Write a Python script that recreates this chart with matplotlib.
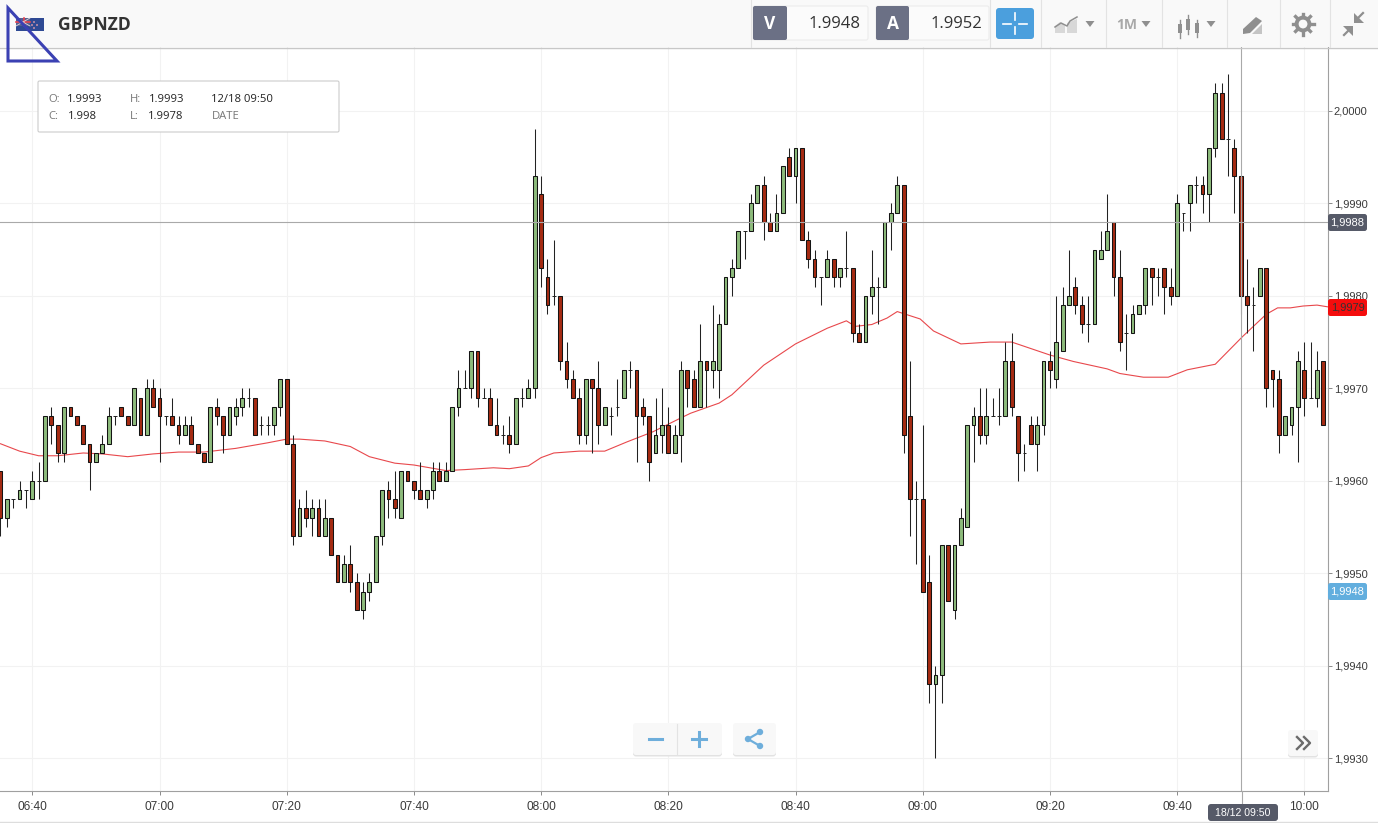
import numpy as np
import matplotlib
matplotlib.use("Agg")
import matplotlib.pyplot as plt
from matplotlib.patches import Rectangle, FancyBboxPatch, Polygon, Circle
from matplotlib.ticker import FixedLocator, FixedFormatter

# ---------- data: one candle per minute; price = (BASE + value) * 0.0001 ----------
BASE = 19900
first_minute = -5   # minutes relative to 06:40
opens = [61,56,58,58,59,58,60,60,67,66,
         63,68,67,66,64,62,63,64,67,68,
         67,66,69,65,70,69,67,67,66,65,
         66,64,63,62,68,67,65,67,68,69,
         69,66,66,66,68,71,64,54,57,56,
         57,54,56,52,49,51,49,46,48,49,
         54,59,58,56,61,60,59,58,59,61,
         60,61,68,70,70,74,69,69,66,65,
         65,64,69,69,70,91,82,80,80,73,
         71,69,65,71,70,66,67,68,69,72,
         72,68,67,63,65,66,63,65,72,71,
         68,73,72,72,77,82,83,87,87,90,
         92,88,87,89,95,93,96,86,84,82,
         82,84,82,83,83,76,75,80,81,81,
         88,89,92,67,58,58,49,38,39,53,
         46,53,55,66,67,65,67,67,67,73,
         67,63,66,64,66,73,71,74,79,81,
         79,77,77,84,85,88,82,76,76,78,
         79,83,82,83,81,80,89,90,92,92,
         91,96,102,97,96,93,80,79,80,83,
         72,71,65,66,68,72,69,69,73]
highs = [61,58,58,60,59,61,62,67,68,66,
         68,68,67,66,64,63,65,68,67,68,
         67,70,69,71,71,70,67,69,67,67,
         67,64,63,68,69,67,68,69,70,70,
         69,67,67,68,71,71,65,58,59,58,
         58,58,56,52,52,53,50,49,50,54,
         59,60,61,61,61,60,62,59,62,62,
         62,68,72,72,74,74,70,70,69,66,
         67,69,70,71,98,93,84,86,80,75,
         72,70,71,71,73,68,68,71,72,73,
         72,69,67,69,70,68,66,73,72,72,
         77,73,79,78,82,84,87,87,91,92,
         93,89,91,94,96,96,96,87,85,82,
         85,84,83,87,83,77,80,85,82,88,
         90,93,92,73,60,66,52,40,53,53,
         53,57,66,68,70,70,69,70,75,76,
         67,64,67,67,73,74,80,81,85,82,
         80,80,85,87,91,88,85,78,79,79,
         83,83,83,83,83,91,89,92,93,93,
         96,103,103,104,97,93,84,81,83,83,
         72,72,67,68,74,75,75,74,73]
lows = [54,55,57,58,57,58,58,60,64,62,
        62,67,66,64,59,62,63,64,66,67,
        66,66,65,65,68,62,66,66,64,65,
        64,63,62,62,66,63,65,66,67,68,
        65,65,65,65,67,64,53,54,55,54,
        54,54,52,49,49,48,46,45,47,49,
        53,56,56,56,60,58,58,57,58,60,
        60,61,67,70,69,68,69,66,65,64,
        63,64,68,69,69,81,78,79,72,70,
        69,64,64,63,64,66,65,67,69,70,
        62,66,60,63,63,63,63,62,68,68,
        68,68,70,69,77,80,83,84,87,90,
        86,87,87,89,93,90,86,83,81,79,
        82,81,81,82,75,75,75,78,77,81,
        85,89,63,54,51,48,36,30,36,47,
        45,53,55,62,64,64,67,66,67,67,
        60,61,64,61,65,70,70,74,79,78,
        76,75,77,84,85,80,74,72,76,78,
        78,79,80,78,79,80,87,87,90,89,
        88,95,97,93,89,78,76,74,80,68,
        68,63,65,65,62,67,69,68,66]
closes = [56,58,58,59,59,60,60,67,66,63,
          68,67,66,64,62,63,64,67,67,67,
          66,70,65,70,68,67,67,66,65,66,
          64,63,62,68,67,65,68,68,69,69,
          65,66,66,68,71,64,54,57,56,57,
          54,56,52,49,51,49,46,48,49,54,
          59,58,57,61,60,59,58,59,61,60,
          61,68,70,70,74,69,69,66,65,65,
          64,69,69,70,93,83,79,80,73,71,
          69,65,71,70,66,68,67,68,72,72,
          67,67,62,65,66,63,65,72,70,68,
          73,72,73,77,82,83,87,87,90,92,
          88,87,89,94,93,96,86,84,82,82,
          84,82,83,83,76,75,80,81,81,88,
          89,92,65,58,58,48,38,39,53,47,
          53,56,66,67,65,67,67,67,73,68,
          63,63,64,66,73,72,75,79,80,79,
          77,77,85,85,87,82,75,76,78,79,
          83,82,82,81,80,90,89,92,92,91,
          96,102,97,97,93,80,79,79,83,70,
          71,65,67,68,73,69,69,72,66]

# moving average: (minute, level)
ma_minutes = [-5,-2,1,4,8,11,15,19,23,27,32,37,40,42,46,50,53,57,60,65,68,72.5,75,78,80,82,86,90,
              93.5,97.6,102,103.5,108,110,115,120,125,128,129.4,132,134.4,136,139.6,141.7,146,
              150.6,154,160,163.7,169,171,174.7,178.6,181.6,186,190.3,194,195.8,197.8,199.8,202,203.8]
ma_levels = [19964.0,19963.2,19962.7,19962.7,19963.0,19962.9,19962.6,19962.9,19963.1,19963.1,19963.5,
             19964.1,19964.5,19964.5,19964.3,19963.7,19962.6,19961.9,19961.7,19961.1,19961.2,19961.4,
             19961.3,19961.6,19962.5,19963.0,19963.2,19963.2,19964.2,19965.3,19966.8,19967.3,19968.4,
             19969.3,19972.5,19974.8,19976.5,19977.3,19976.7,19976.9,19977.6,19978.3,19977.5,19976.2,
             19974.8,19975.0,19975.0,19973.6,19972.9,19972.1,19971.6,19971.2,19971.2,19972.0,19972.6,
             19975.6,19978.0,19978.7,19978.7,19978.9,19979.0,19978.8]

y_ticks = [1.9930,1.9940,1.9950,1.9960,1.9970,1.9980,1.9990,2.0000]
x_tick_minutes = [0,20,40,60,80,100,120,140,160,180,200]
x_tick_labels = ["06:40","07:00","07:20","07:40","08:00","08:20","08:40","09:00","09:20","09:40","10:00"]
symbol = "GBPNZD"
bid, ask = "1.9948", "1.9952"
cross_price = 1.9988
cross_minute = 190
last_ma, last_bid = 1.9979, 1.9948

UNIT = 1e-4
W, H = 1378, 823
PXX = 6.36
PXY = 92429.0
X0 = 32.3

plt.rcParams['font.family'] = ['Liberation Sans', 'DejaVu Sans']
fig = plt.figure(figsize=(W/100, H/100), dpi=100, facecolor='white')

# plot region in pixels: x 0..1328, y 47..791
ax = fig.add_axes([0, 1-791/H, 1328/W, (791-47)/H])
ax.set_xlim(-X0/PXX, (1328-X0)/PXX)
ax.set_ylim(2.0-(791-111)/PXY, 2.0+(111-47)/PXY)
ax.set_facecolor('white')

ax.yaxis.tick_right()
ax.yaxis.set_major_locator(FixedLocator(y_ticks))
ax.yaxis.set_major_formatter(FixedFormatter([f"{v:.4f}".replace('.', ',') for v in y_ticks]))
ax.xaxis.set_major_locator(FixedLocator(x_tick_minutes))
ax.xaxis.set_major_formatter(FixedFormatter(x_tick_labels))
ax.tick_params(axis='both', length=3, width=0.7, color='#8a8a8a', labelcolor='#3a3a3a')
ax.tick_params(axis='y', labelsize=8.0, pad=1.2)
ax.tick_params(axis='x', labelsize=8.6, pad=4.2)
ax.grid(True, color='#f2f2f2', lw=0.8, zorder=0)
ax.set_axisbelow(True)
for s in ('top', 'left'):
    ax.spines[s].set_visible(False)
for s in ('right', 'bottom'):
    ax.spines[s].set_color('#a0a0a0')
    ax.spines[s].set_linewidth(0.8)

minutes = first_minute + np.arange(len(opens))
o = (BASE + np.array(opens))*UNIT
h = (BASE + np.array(highs))*UNIT
l = (BASE + np.array(lows))*UNIT
c = (BASE + np.array(closes))*UNIT

ax.plot(ma_minutes, np.array(ma_levels)*UNIT, color='#e8484c', lw=0.8, zorder=2, solid_joinstyle='round')
wicks = ax.vlines(minutes, l, h, color='#222222', lw=0.75, zorder=3)
wicks.set_snap(True)

eq = np.array(opens) == np.array(closes)
up = np.array(closes) > np.array(opens)
dn = np.array(closes) < np.array(opens)
GREEN, RED = '#8dbb7c', '#a52b12'
bw = 0.6
ax.bar(minutes[up], (c-o)[up], bottom=o[up], width=bw, color=GREEN, edgecolor='#141414', lw=0.75, zorder=4)
ax.bar(minutes[dn], (o-c)[dn], bottom=c[dn], width=bw, color=RED, edgecolor='#141414', lw=0.75, zorder=4)
dojis = ax.hlines(o[eq], minutes[eq]-bw/2, minutes[eq]+bw/2, color='#222222', lw=0.7, zorder=4)
dojis.set_snap(True)

ax.axhline(cross_price, color='#a9a9a9', lw=0.8, zorder=5)
ax.axvline(cross_minute, color='#a9a9a9', lw=0.8, zorder=5)

# ---------- overlay in pixel coordinates for the platform chrome ----------
ov = fig.add_axes([0, 0, 1, 1], facecolor='none')
ov.set_xlim(0, W)
ov.set_ylim(H, 0)
ov.axis('off')

def box(x0, y0, x1, y1, fc, ec='none', r=2, lw=0.8, z=6):
    p = FancyBboxPatch((x0+r, y0+r), x1-x0-2*r, y1-y0-2*r, boxstyle=f"round,pad={r},rounding_size={r}",
                       fc=fc, ec=ec, lw=lw, zorder=z)
    ov.add_patch(p)

def txt(x, y, s, size=8, color='#333333', ha='left', family=None, weight='normal', z=8):
    ov.text(x, y, s, fontsize=size, color=color, ha=ha, va='center',
            family=family or ['Open Sans', 'DejaVu Sans'], weight=weight, zorder=z)

# header
ov.add_patch(Rectangle((0, 0), W, 47, fc='#f9f9f9', ec='none', zorder=5))
ov.plot([0, W], [47.5, 47.5], color='#c8c8c8', lw=1.0, zorder=6)
ov.plot([0, W], [822, 822], color='#dddddd', lw=1.0, zorder=6)
ov.plot([1241.5, 1241.5], [791, 804], color='#a9a9a9', lw=0.8, zorder=5)

# flag
ov.add_patch(Rectangle((16, 18), 28, 13, fc='#2f4a94', ec='none', zorder=7))
ov.add_patch(Rectangle((16, 18), 14, 8, fc='#55608f', ec='none', zorder=7))
ov.plot([16, 30], [22, 22], color='#e8434f', lw=1.2, zorder=7)
ov.plot([24, 24], [18, 26], color='#e8434f', lw=1.2, zorder=7)
ov.plot([16, 30], [18, 26], color='#e6d8dc', lw=0.6, zorder=7)
ov.plot([16, 30], [26, 18], color='#e6d8dc', lw=0.6, zorder=7)
for fx, fy in [(34, 22), (37, 25), (34, 28), (32, 25)]:
    ov.add_patch(Circle((fx, fy), 0.9, fc='#e9a0aa', ec='none', zorder=7))

# hand-drawn triangle
ov.add_patch(Polygon([(8, 8), (8, 61), (57, 61)], closed=True, fc='none', ec='#3b41b3', lw=2.2, zorder=9))
txt(58, 25, symbol, size=12.6, color='#333333', weight='bold')

# info box
box(38, 81, 339, 132, 'white', ec='#cccccc', r=1.5, lw=0.8)
gy = '#777777'; bk = '#222222'
fs = 8.1
txt(48, 99, 'O:', fs, gy); txt(67, 99, '1.9993', fs, bk)
txt(130, 99, 'H:', fs, gy); txt(149, 99, '1.9993', fs, bk)
txt(211, 99, '12/18 09:50', fs, bk)
txt(48, 116, 'C:', fs, gy); txt(68, 116, '1.998', fs, bk)
txt(130, 116, 'L:', fs, gy); txt(148, 116, '1.9978', fs, bk)
txt(212, 116, 'DATE', fs, gy)

# toolbar
for sx in (750, 989, 1040, 1105, 1161, 1226, 1279, 1329):
    ov.plot([sx+.5, sx+.5], [0, 47], color='#e3e3e3', lw=0.8, zorder=6)
box(753, 6, 868, 40, '#fbfbfb', ec='#ececec', r=2)
box(753, 6, 787, 40, '#6b7085', r=2, z=7)
txt(770, 24, 'V', 12.5, 'white', ha='center', weight='bold')
txt(861, 24, bid, 12, '#333333', ha='right')
box(876, 6, 989, 40, '#fbfbfb', ec='#ececec', r=2)
box(876, 6, 909, 40, '#6b7085', r=2, z=7)
txt(893, 24, 'A', 12.5, 'white', ha='center', weight='bold')
txt(982, 24, ask, 12, '#333333', ha='right')
box(996, 8, 1034, 39, '#4b9fdd', r=3)
for seg in ([(1003, 23.5), (1011, 23.5)], [(1019, 23.5), (1027, 23.5)],
            [(1015, 13), (1015, 20)], [(1015, 27), (1015, 34)]):
    ov.plot(*zip(*seg), color='white', lw=1.2, zorder=8)
ic = '#8f8f8f'
ov.add_patch(Polygon([(1055, 33), (1055, 26), (1060, 22), (1065, 26), (1065, 33)], fc='#d8d8d8', ec='none', zorder=7))
ov.add_patch(Polygon([(1067, 33), (1067, 23), (1077, 19), (1077, 33)], fc='#d8d8d8', ec='none', zorder=7))
ov.plot([1055, 1061, 1067, 1070, 1077], [27, 23, 26, 21, 17], color=ic, lw=1.1, zorder=8)
for tx in (1090, 1146, 1211):
    ov.add_patch(Polygon([(tx-4.5, 21), (tx+4.5, 21), (tx, 27)], fc=ic, ec='none', zorder=7))
txt(1127, 25, '1M', 10, '#a8a8a8', ha='center', weight='bold')
for cx, t0, t1, b0, b1 in [(1180, 20, 38, 24, 33), (1188, 15, 34, 19, 30), (1197, 20, 37, 23, 33)]:
    ov.plot([cx, cx], [t0, t1], color=ic, lw=1.0, zorder=7)
    ov.add_patch(Rectangle((cx-2, b0), 4, b1-b0, fc=ic, ec='none', zorder=8))
ov.add_patch(Polygon([(1243, 29), (1256, 17), (1262, 21), (1250, 33), (1243, 34)], fc=ic, ec='none', zorder=7))
ov.add_patch(Polygon([(1252, 34), (1262, 24), (1262, 34)], fc='#c4c4c4', ec='none', zorder=7))
# gear
for a in np.deg2rad(np.arange(0, 360, 45)):
    ov.plot([1303+7*np.cos(a), 1303+10.5*np.cos(a)], [24+7*np.sin(a), 24+10.5*np.sin(a)], color=ic, lw=2.4, zorder=7)
ov.add_patch(Circle((1303, 24), 6.4, fc='none', ec=ic, lw=2.8, zorder=7))
# collapse arrows
ov.plot([1344, 1351], [35, 28], color=ic, lw=1.6, zorder=7)
ov.add_patch(Polygon([(1343, 26), (1353, 26), (1353, 36)], fc=ic, ec='none', zorder=7))
ov.plot([1356, 1363], [20, 13], color=ic, lw=1.6, zorder=7)
ov.add_patch(Polygon([(1354, 13), (1354, 23), (1364, 23)], fc=ic, ec='none', zorder=7))

# price tags
for val, yc, fc, tc in [(cross_price, 222.5, '#565a68', 'white'), (last_ma, 307.5, '#f40d0d', '#333333'),
                        (last_bid, 591.5, '#62aede', 'white')]:
    box(1328, yc-8.5, 1367, yc+8.5, fc, r=2.5)
    txt(1347.5, yc, f"{val:.4f}".replace('.', ','), 8.0, tc, ha='center', family=['Liberation Sans'])

# time tag
box(1208, 804, 1278, 821, '#565a68', r=3)
txt(1243, 812.5, '18/12 09:50', 7.6, 'white', ha='center', family=['Liberation Sans'])

# zoom / share / forward buttons
for b in ((633, 723, 722, 755), (733, 723, 776, 755), (1288, 730, 1318, 756)):
    box(b[0], b[1]+1.5, b[2], b[3]+1.5, '#e2e2e2', r=3)
    box(*b, '#f8f8f8', r=3, z=7)
ov.plot([677, 677], [724, 754], color='#e3e3e3', lw=0.8, zorder=8)
blue = '#6eaedb'
ov.plot([649, 662], [739, 739], color=blue, lw=2.2, zorder=8)
ov.plot([692, 706], [739, 739], color=blue, lw=2.2, zorder=8)
ov.plot([699, 699], [732, 746], color=blue, lw=2.2, zorder=8)
ov.plot([760, 748, 760], [732, 739, 746], color=blue, lw=1.6, zorder=8)
for sx, sy, sr in [(760, 732, 3.2), (748, 739, 3.2), (760, 746, 3.2)]:
    ov.add_patch(Circle((sx, sy), sr, fc=blue, ec='none', zorder=9))
ov.plot([1297, 1303, 1297], [737, 743, 749], color='#6b6b6b', lw=1.7, zorder=8)
ov.plot([1304, 1310, 1304], [737, 743, 749], color='#6b6b6b', lw=1.7, zorder=8)

fig.savefig('out.png', dpi=100, facecolor='white')
